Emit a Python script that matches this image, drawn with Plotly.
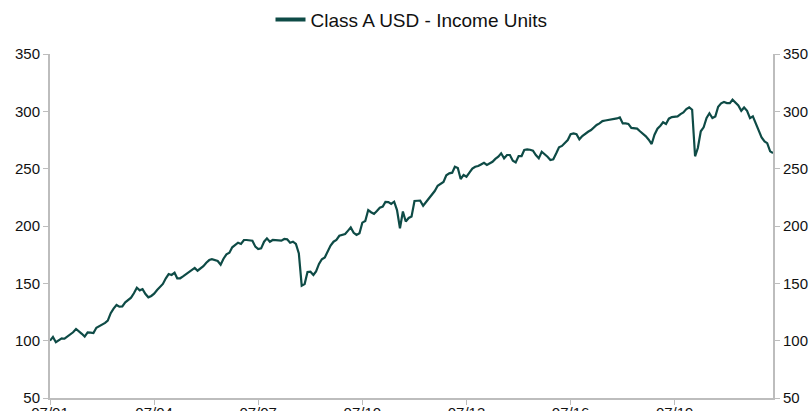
import pandas as pd
import plotly.graph_objects as go

series_name = "Class A USD - Income Units"
start_month = "2001-07-01"

# monthly values (07/2001 .. 05/2022)
values = [
    100, 103.2, 98.6, 100, 102, 101.7, 103.5, 105, 107.3, 110.2, 108.4, 106,
    103.5, 107.3, 107, 106.7, 111.3, 112.5, 113.7, 115.5, 117.5, 124, 128, 131.1,
    129.6, 129.9, 133.4, 135.5, 137.5, 141.3, 146.2, 143.9, 145, 140.7, 137.8, 139,
    141, 144.2, 147, 149.5, 154.4, 158.1, 157.3, 159.3, 154.4, 154.4, 156, 157.8,
    160.1, 162, 163.5, 161, 163, 165, 168, 170.3, 171, 170.5, 169.5, 166.2,
    171.5, 175.3, 176.7, 181.4, 183.5, 185.4, 184.3, 187.8, 187.8, 187.8, 187.2, 182,
    179.9, 180.5, 186.3, 189.2, 186.3, 187.8, 187.8, 187.5, 187.2, 188.7, 188.4, 185.4,
    186.3, 184.3, 176, 148, 149.4, 159.9, 160.1, 157.3, 160.4, 166.9, 171, 172.6,
    178.2, 183, 186.3, 187.8, 191.5, 192.2, 193, 196, 198.8, 194, 192.2, 193.6,
    202.9, 204.4, 213.9, 212, 210.5, 213.1, 216, 217, 221, 220.9, 219.2, 221.2,
    213.9, 198, 212.6, 203.9, 207, 208.3, 221.8, 222, 222.1, 217.7, 221, 223.5,
    227, 230.5, 235.1, 237, 238.4, 244.2, 245.9, 246.5, 251.7, 250.5, 241, 244.5,
    243, 246.5, 250, 251.7, 252.3, 253.7, 255.1, 253.2, 254.5, 256, 258.5, 260.4,
    263.4, 259, 261.9, 261.9, 257, 255.5, 261, 261, 266.3, 266.8, 266.5, 265.7,
    261.9, 259, 264.8, 262.8, 260.4, 257.6, 258.2, 263.4, 268.6, 269.8, 272.5, 275,
    280, 280.8, 280, 275.6, 278.5, 280.5, 282.2, 283.7, 286, 288.1, 289.5, 291.5,
    292, 292.4, 293.3, 293.5, 293.8, 294.7, 289.5, 289.5, 289, 285.5, 285, 284.9,
    282.6, 280.5, 278.2, 275.3, 271.5, 279.6, 284.9, 287.5, 290.5, 289, 293.6, 295,
    295.3, 295.6, 297.6, 299, 302, 303.4, 301.4, 260.8, 268, 282.6, 286.1, 294.2,
    298.3, 294.2, 295.6, 304, 307, 308.1, 307.2, 307.2, 310.1, 307.2, 305.2, 300.5,
    303.4, 300.5, 294, 295.6, 289.8, 283.1, 277.3, 273.8, 272.3, 265.1, 263.7,
]
dates = pd.date_range(start_month, periods=len(values), freq="MS")

y_tick_vals = [50, 100, 150, 200, 250, 300, 350]
x_tick_vals = ["2001-07-01", "2004-07-01", "2007-07-01", "2010-07-01",
               "2013-07-01", "2016-07-01", "2019-07-01"]
x_tick_text = ["07/01", "07/04", "07/07", "07/10", "07/13", "07/16", "07/19"]

line_color = "#0e4b46"
axis_color = "#bdbdbd"
font_family = "Liberation Sans, Arial, sans-serif"

fig = go.Figure()
fig.add_trace(go.Scatter(x=dates, y=values, mode="lines",
                         line=dict(color=line_color, width=2.2),
                         showlegend=False, hoverinfo="x+y"))
# legend entry
fig.add_trace(go.Scatter(x=[None], y=[None], mode="lines", name=series_name,
                         line=dict(color=line_color, width=4)))
# right axis companion (invisible)
fig.add_trace(go.Scatter(x=dates, y=values, mode="lines", yaxis="y2",
                         opacity=0, showlegend=False, hoverinfo="skip"))

axis_common = dict(
    range=[50, 350], tickvals=y_tick_vals, showgrid=False, zeroline=False,
    showline=True, linecolor=axis_color, linewidth=2, automargin=False,
    ticks="outside", ticklen=5, tickwidth=1, tickcolor=axis_color,
    tickfont=dict(size=15, color="#111", family=font_family),
)

fig.update_layout(
    width=810, height=411,
    margin=dict(l=50, r=37, t=54, b=13, autoexpand=False),
    paper_bgcolor="white", plot_bgcolor="white",
    font=dict(family=font_family, color="#111"),
    showlegend=True,
    legend=dict(orientation="h", x=0.5, xanchor="center", y=1.1, yanchor="middle",
                font=dict(size=19, color="#111", family=font_family),
                bgcolor="rgba(0,0,0,0)"),
    xaxis=dict(range=[dates[0], dates[-1]], tickvals=x_tick_vals, ticktext=x_tick_text,
               showgrid=False, zeroline=False, showline=True, linecolor=axis_color,
               linewidth=2, ticks="outside", ticklen=5, tickwidth=1, tickcolor=axis_color,
               automargin=False, ticklabelstandoff=-5,
               tickfont=dict(size=15, color="#111", family=font_family)),
    yaxis=dict(side="left", **axis_common),
    yaxis2=dict(side="right", overlaying="y", **axis_common),
)

fig.write_html("out.html", config={"displayModeBar": False},
               post_script="document.body.style.margin='0';document.body.style.overflow='hidden';")
